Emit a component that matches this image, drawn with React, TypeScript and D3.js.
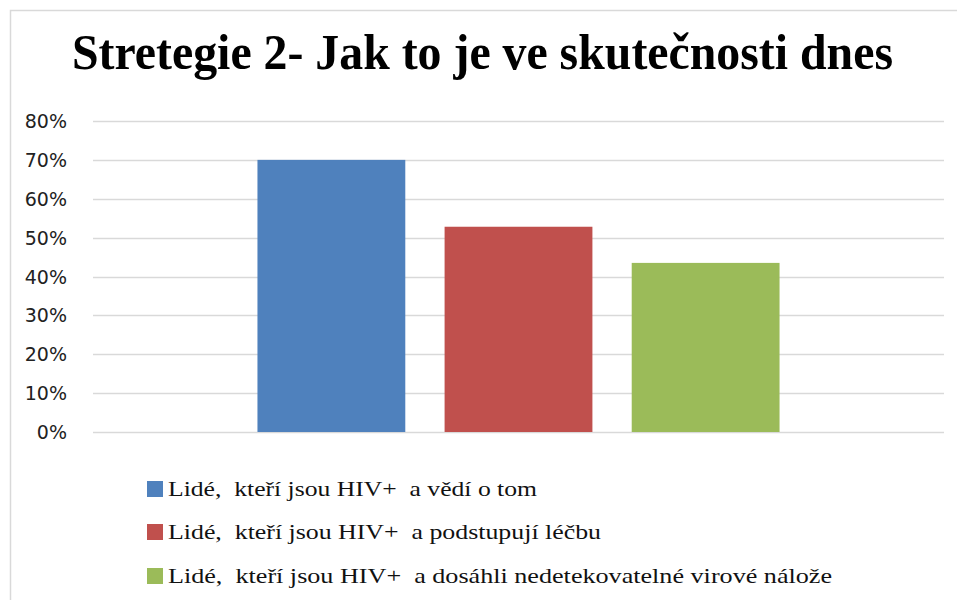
import * as d3 from "d3";
import React, { useEffect, useRef } from "react";

const title = "Stretegie 2- Jak to je ve skutečnosti dnes";
const categories = ["dnes"];
const seriesNames = [
  "Lidé,  kteří jsou HIV+  a vědí o tom",
  "Lidé,  kteří jsou HIV+  a podstupují léčbu",
  "Lidé,  kteří jsou HIV+  a dosáhli nedetekovatelné virové nálože",
];
const seriesValues = [0.7, 0.528, 0.435];
const yTicks = [0, 0.1, 0.2, 0.3, 0.4, 0.5, 0.6, 0.7, 0.8];
const colors = ["#4F81BD", "#C0504D", "#9BBB59"];

const W = 957;
const H = 600;
const serif = "'Liberation Serif', 'Times New Roman', serif";

export default function App() {
  const ref = useRef<SVGSVGElement>(null);

  useEffect(() => {
    const svg = d3.select(ref.current);
    svg.selectAll("*").remove();

    // chart frame (only top and left edges are in view)
    svg
      .append("path")
      .attr("d", `M10.5,${H} V10.5 H${W}`)
      .attr("fill", "none")
      .attr("stroke", "#D9D9D9")
      .attr("stroke-width", 1.5);

    svg
      .append("text")
      .attr("x", 72)
      .attr("y", 69)
      .attr("textLength", 821)
      .attr("lengthAdjust", "spacingAndGlyphs")
      .style("font-family", serif)
      .attr("font-weight", "bold")
      .attr("font-size", 50)
      .text(title);

    const y = d3.scaleLinear().domain([0, 0.8]).range([432, 121]);
    const x0 = d3
      .scaleBand<string>()
      .domain(categories)
      .range([93, 944])
      .paddingOuter(0.315);
    const x1 = d3
      .scaleBand<string>()
      .domain(seriesNames)
      .range([0, x0.bandwidth()])
      .paddingInner(0.21);

    const grid = svg.append("g");
    grid
      .selectAll("line")
      .data(yTicks)
      .join("line")
      .attr("x1", 93)
      .attr("x2", 944)
      .attr("y1", (d) => Math.round(y(d)) + 0.5)
      .attr("y2", (d) => Math.round(y(d)) + 0.5)
      .attr("stroke", "#D9D9D9")
      .attr("stroke-width", 1.5);

    grid
      .selectAll("text")
      .data(yTicks)
      .join("text")
      .attr("x", 67)
      .attr("y", (d) => y(d) + 7)
      .attr("text-anchor", "end")
      .style("font-family", "'DejaVu Sans', sans-serif")
      .attr("font-size", 19)
      .attr("fill", "#222")
      .text((d) => d3.format(".0%")(d));

    const g = svg
      .append("g")
      .attr("transform", `translate(${x0(categories[0])},0)`);
    g.selectAll("rect")
      .data(seriesValues)
      .join("rect")
      .attr("x", (d, i) => x1(seriesNames[i])!)
      .attr("y", (d) => y(d))
      .attr("width", x1.bandwidth())
      .attr("height", (d) => y(0) - y(d))
      .attr("fill", (d, i) => colors[i]);

    const legendY = [489, 532, 576];
    const legendW = [369, 433, 664];
    const legend = svg
      .append("g")
      .selectAll("g")
      .data(seriesNames)
      .join("g")
      .attr("transform", (d, i) => `translate(147,${legendY[i]})`);
    legend
      .append("rect")
      .attr("x", 0)
      .attr("y", -8)
      .attr("width", 16)
      .attr("height", 16)
      .attr("fill", (d, i) => colors[i]);
    legend
      .append("text")
      .attr("x", 21)
      .attr("y", 7)
      .style("white-space", "pre")
      .style("font-family", serif)
      .attr("textLength", (d, i) => legendW[i])
      .attr("lengthAdjust", "spacingAndGlyphs")
      .attr("font-size", 21)
      .attr("fill", "#111")
      .text((d) => d);
  }, []);

  return (
    <svg
      ref={ref}
      width={W}
      height={H}
      style={{ position: "absolute", left: 0, top: 0, background: "#fff" }}
    />
  );
}
